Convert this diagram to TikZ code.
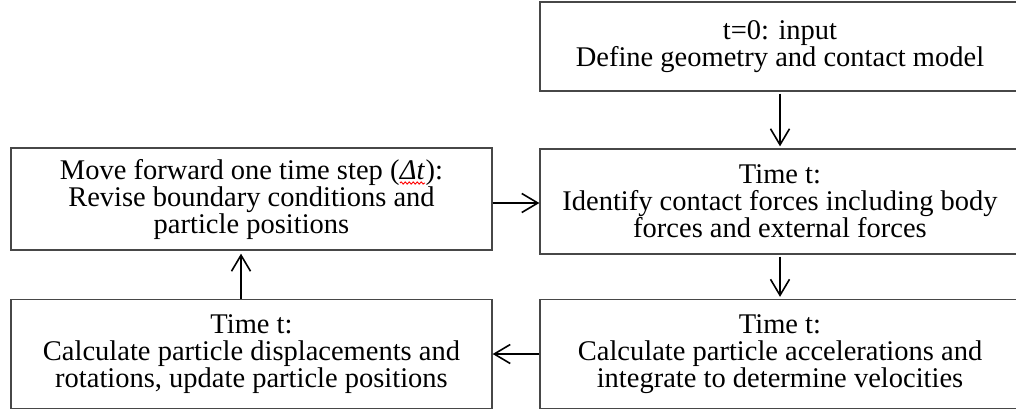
\documentclass[tikz,border=0pt]{standalone}
\usepackage{fontspec}
\setmainfont{Liberation Serif}
\usetikzlibrary{arrows.meta,decorations.pathmorphing}
\newcommand{\wavyred}[1]{\tikz[baseline=(w.base),x=1pt,y=1pt]{\node[inner sep=0pt,outer sep=0pt,draw=none,minimum width=0pt,minimum height=0pt,line width=0.4pt] (w) {#1};
  \draw[red, line width=0.9pt, decorate, decoration={snake, amplitude=1.1pt, segment length=4pt}] ([yshift=-4pt]w.base west) -- ([yshift=-4pt]w.base east);}}
\begin{document}
\begin{tikzpicture}[x=1pt,y=-1pt,
  box/.style={draw=black!72, line width=1.3pt, align=center, inner sep=0pt,
    font=\fontsize{28.5}{27}\selectfont},
  arr/.style={line width=1.6pt, -{Straight Barb[length=16pt,width=19pt]}}]
\useasboundingbox (0,0) rectangle (1016,410);
\node[box, minimum width=480pt, minimum height=89pt] (init) at (780,46.5)
  {t=0: input\\Define geometry and contact model};
\node[box, minimum width=480pt, minimum height=105pt] (forces) at (780,201.5)
  {Time t:\\Identify contact forces including body\\forces and external forces};
\node[box, minimum width=481pt, minimum height=102pt] (move) at (251.5,199)
  {Move forward one time step (\wavyred{\textit{Δt}}):\\Revise boundary conditions and\\particle positions};
\node[box, minimum width=480pt, minimum height=109pt] (accel) at (780,354)
  {Time t:\\Calculate particle accelerations and\\integrate to determine velocities};
\node[box, minimum width=481pt, minimum height=109pt] (displ) at (251.5,354)
  {Time t:\\Calculate particle displacements and\\rotations, update particle positions};
\draw[arr] ([yshift=-2pt]init.south) -- ([yshift=2pt]forces.north);
\draw[arr] ([yshift=-2pt]forces.south) -- ([yshift=2pt]accel.north);
\draw[arr] (accel.west) -- (displ.east);
\draw[arr] ([xshift=-10.5pt]displ.north) -- ([xshift=-10.5pt,yshift=-3pt]move.south);
\draw[arr] ([yshift=-1.5pt]move.east |- forces.west) -- ([yshift=-1.5pt]forces.west);
\end{tikzpicture}
\end{document}
